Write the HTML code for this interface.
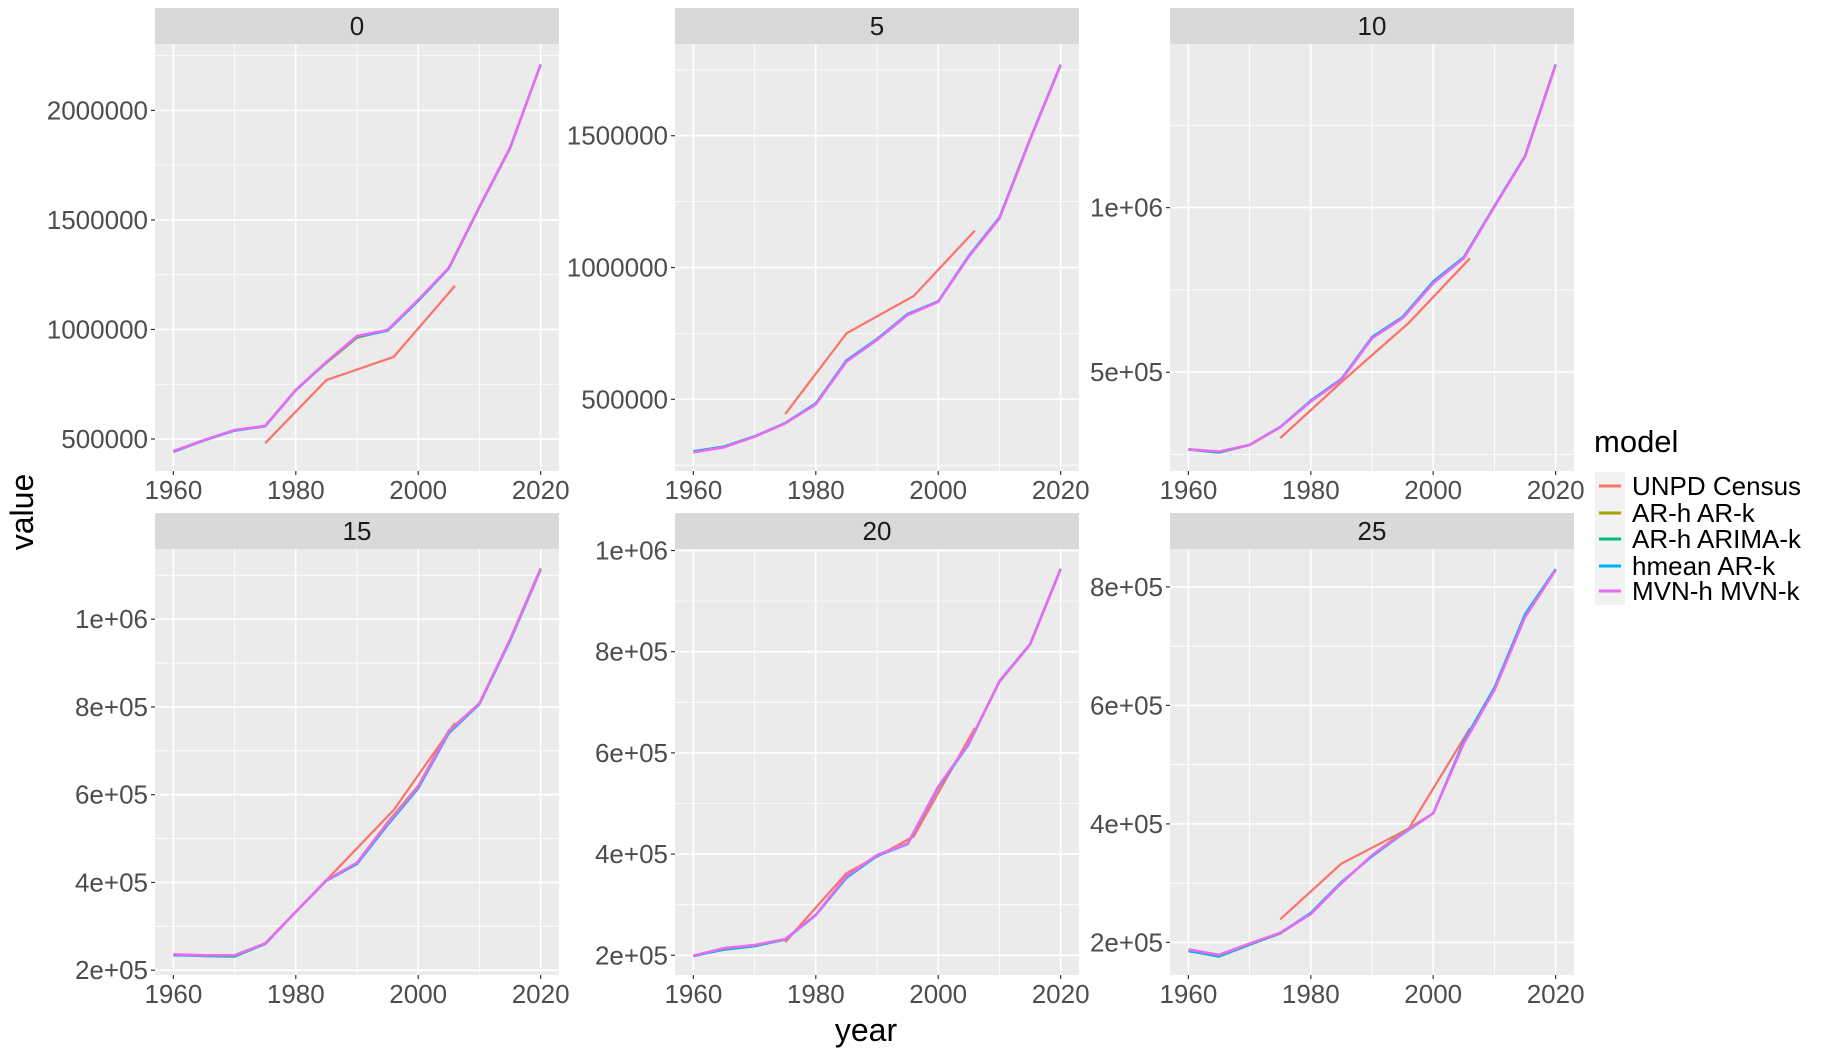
<!DOCTYPE html>
<html><head><meta charset="utf-8">
<style>
html,body{margin:0;padding:0;background:#fff;}
svg{display:block;font-family:"Liberation Sans",Arial,sans-serif;}
</style></head>
<body>
<svg id="chart" width="1827" height="1051" viewBox="0 0 1827 1051" xmlns="http://www.w3.org/2000/svg">
  <rect x="0" y="0" width="1827" height="1051" fill="#ffffff"/>
  <g id="panels"></g>
  <text transform="translate(33,512) rotate(-90)" text-anchor="middle" font-size="32" fill="#000">value</text>
  <text x="866" y="1041" text-anchor="middle" font-size="32" fill="#000">year</text>
  <g>
    <text x="1594" y="452" font-size="31" fill="#000">model</text>
    <rect x="1595" y="472" width="30" height="133" fill="#F2F2F2"/>
    <g id="legend-entries"></g>
  </g>
</svg>
<script>
const years = [1960,1965,1970,1975,1980,1985,1990,1995,2000,2005,2010,2015,2020];
const unpdYears = [1975,1985,1996,2006];
const panelLabels = ["0","5","10","15","20","25"];
const seriesNames = ["UNPD Census","AR-h AR-k","AR-h ARIMA-k","hmean AR-k","MVN-h MVN-k"];
const seriesColors = ["#F8766D","#A3A500","#00BF7D","#00B0F6","#E76BF3"];

// UNPD Census values per panel
const unpd0 = [481000,769000,875000,1199000];
const unpd5 = [444000,750000,892000,1140000];
const unpd10 = [300000,470000,650000,846000];
const unpd15 = [261000,405000,565000,763000];
const unpd20 = [226000,362000,435000,649000];
const unpd25 = [239000,333000,392000,561000];

// MVN-h MVN-k
const mvn0 = [445000,495000,541000,560000,724000,852000,970000,998000,1135000,1281000,1560000,1829000,2208000];
const mvn5 = [299000,318000,358000,409000,481000,643000,725000,820000,870000,1041000,1186000,1484000,1768000];
const mvn10 = [266000,259000,279000,333000,411000,477000,603000,664000,770000,846000,1003000,1155000,1433000];
const mvn15 = [236000,234000,234000,261000,333000,405000,445000,535000,618000,744000,808000,953000,1114000];
const mvn20 = [199000,214000,220000,232000,280000,356000,398000,421000,533000,619000,741000,814000,963000];
const mvn25 = [188000,179000,198000,216000,248000,300000,347000,384000,418000,536000,626000,749000,828000];

// hmean AR-k
const hmean0 = [441000,493000,538000,558000,722000,850000,966000,994000,1130000,1278000,1557000,1826000,2210000];
const hmean5 = [302000,320000,359000,410000,484000,648000,729000,824000,872000,1045000,1190000,1488000,1770000];
const hmean10 = [266000,258000,280000,334000,414000,480000,607000,668000,776000,850000,1005000,1157000,1435000];
const hmean15 = [234000,233000,233000,260000,333000,404000,442000,531000,614000,740000,806000,950000,1112000];
const hmean20 = [198000,212000,219000,231000,279000,353000,396000,420000,531000,617000,742000,815000,964000];
const hmean25 = [185000,177000,197000,216000,250000,302000,345000,383000,418000,540000,630000,754000,830000];

// AR-h ARIMA-k
const arima0 = [443000,494000,539000,559000,723000,851000,968000,996000,1132000,1280000,1558000,1827000,2209000];
const arima5 = [303000,321000,360000,410000,485000,646000,727000,822000,871000,1043000,1188000,1486000,1769000];
const arima10 = [265000,256000,279000,333000,412000,478000,605000,666000,773000,848000,1004000,1156000,1434000];
const arima15 = [235000,232000,231000,260000,333000,404000,443000,533000,616000,742000,807000,951000,1113000];
const arima20 = [199000,211000,218000,231000,280000,354000,397000,420000,532000,618000,741000,814000,963000];
const arima25 = [186000,176000,196000,215000,249000,301000,346000,383000,418000,538000,628000,751000,829000];

// AR-h AR-k
const arh0 = [444000,495000,540000,560000,724000,848000,962000,997000,1134000,1281000,1560000,1829000,2208000];
const arh5 = [300000,319000,358000,409000,482000,644000,726000,821000,870000,1042000,1187000,1485000,1768000];
const arh10 = [266000,258000,279000,333000,411000,478000,604000,665000,771000,847000,1003000,1155000,1433000];
const arh15 = [236000,234000,234000,261000,333000,405000,445000,537000,620000,746000,808000,954000,1116000];
const arh20 = [199000,214000,220000,232000,280000,356000,398000,421000,533000,619000,741000,814000,963000];
const arh25 = [188000,179000,198000,216000,248000,300000,347000,386000,418000,536000,626000,749000,828000];

// y-axis domains and ticks per panel
const yDomains = [[354000,2303000],[228000,1848000],[200000,1497000],[189000,1160000],[161000,1003000],[145000,864000]];
const yTicks0 = [500000,1000000,1500000,2000000];
const yTicks5 = [500000,1000000,1500000];
const yTicks10 = [500000,1000000];
const yTicks15 = [200000,400000,600000,800000,1000000];
const yTicks20 = [200000,400000,600000,800000,1000000];
const yTicks25 = [200000,400000,600000,800000];
const yTickLabels0 = ["500000","1000000","1500000","2000000"];
const yTickLabels5 = ["500000","1000000","1500000"];
const yTickLabels10 = ["5e+05","1e+06"];
const yTickLabels15 = ["2e+05","4e+05","6e+05","8e+05","1e+06"];
const yTickLabels20 = ["2e+05","4e+05","6e+05","8e+05","1e+06"];
const yTickLabels25 = ["2e+05","4e+05","6e+05","8e+05"];
const xTicks = [1960,1980,2000,2020];
const xTickLabels = ["1960","1980","2000","2020"];
const xMinor = [1970,1990,2010];

const NS = "http://www.w3.org/2000/svg";
function mk(tag, attrs, parent){
  const e = document.createElementNS(NS, tag);
  for (const k in attrs) e.setAttribute(k, attrs[k]);
  parent.appendChild(e);
  return e;
}
const colX = [155,675,1170];
const panelW = 404;
const rowStrip = [[8,44,471],[513,549,975]];
const allUnpd = [unpd0,unpd5,unpd10,unpd15,unpd20,unpd25];
const allArh = [arh0,arh5,arh10,arh15,arh20,arh25];
const allArima = [arima0,arima5,arima10,arima15,arima20,arima25];
const allHmean = [hmean0,hmean5,hmean10,hmean15,hmean20,hmean25];
const allMvn = [mvn0,mvn5,mvn10,mvn15,mvn20,mvn25];
const allTicks = [yTicks0,yTicks5,yTicks10,yTicks15,yTicks20,yTicks25];
const allTickLabels = [yTickLabels0,yTickLabels5,yTickLabels10,yTickLabels15,yTickLabels20,yTickLabels25];

const root = document.getElementById("panels");
for (let p = 0; p < 6; p++) {
  const col = p % 3, row = Math.floor(p / 3);
  const x0 = colX[col], x1 = x0 + panelW;
  const [sTop, pTop, pBot] = rowStrip[row];
  const [d0, d1] = yDomains[p];
  const xs = yr => x0 + (yr - 1957) / 66 * panelW;
  const ys = v => pBot - (v - d0) / (d1 - d0) * (pBot - pTop);
  const g = mk("g", {}, root);
  
  
  const strip = mk("rect", {x:x0, y:sTop, width:panelW, height:pTop-sTop, fill:"#D9D9D9"}, g);
  
  
  const st = mk("text", {x:x0+panelW/2, y:sTop+27, "text-anchor":"middle", "font-size":"26", fill:"#1A1A1A"}, g);
  
  
  st.textContent = panelLabels[p];
  mk("rect", {x:x0, y:pTop, width:panelW, height:pBot-pTop, fill:"#EBEBEB"}, g);
  const ticks = allTicks[p];
  const step = ticks[1] - ticks[0];
  for (let v = ticks[0] - step/2; v < d1; v += step) {
    if (v > d0) mk("line", {x1:x0, x2:x1, y1:ys(v), y2:ys(v), stroke:"#fff", "stroke-width":"0.8"}, g);
  }
  xMinor.forEach(yr => mk("line", {x1:xs(yr), x2:xs(yr), y1:pTop, y2:pBot, stroke:"#fff", "stroke-width":"0.8"}, g));
  ticks.forEach((v, i) => {
    mk("line", {x1:x0, x2:x1, y1:ys(v), y2:ys(v), stroke:"#fff", "stroke-width":"1.6"}, g);
    mk("line", {x1:x0-4, x2:x0, y1:ys(v), y2:ys(v), stroke:"#333", "stroke-width":"1.2"}, g);
    const t = mk("text", {x:x0-7, y:ys(v)+9, "text-anchor":"end", "font-size":"26", fill:"#4D4D4D"}, g);
    
    
    t.textContent = allTickLabels[p][i];
  });
  xTicks.forEach((yr, i) => {
    mk("line", {x1:xs(yr), x2:xs(yr), y1:pTop, y2:pBot, stroke:"#fff", "stroke-width":"1.6"}, g);
    mk("line", {x1:xs(yr), x2:xs(yr), y1:pBot, y2:pBot+4, stroke:"#333", "stroke-width":"1.2"}, g);
    const t = mk("text", {x:xs(yr), y:pBot+28, "text-anchor":"middle", "font-size":"26", fill:"#4D4D4D"}, g);
    
    
    t.textContent = xTickLabels[i];
  });
  const series = [[unpdYears, allUnpd[p]],[years, allArh[p]],[years, allArima[p]],[years, allHmean[p]],[years, allMvn[p]]];
  series.forEach((s, si) => {
    const pts = s[0].map((yr, i) => xs(yr).toFixed(1) + "," + ys(s[1][i]).toFixed(1)).join(" ");
    const pl = mk("polyline", {points:pts, fill:"none", stroke:seriesColors[si], "stroke-width": si === 4 ? "2.6" : "2.3", "stroke-linejoin":"round"}, g);
    
    
  });
}
const lg = document.getElementById("legend-entries");
const keyY = [486,513,539,566,591];
seriesNames.forEach((n, i) => {
  const ge = mk("g", {}, lg);
  
  
  mk("line", {x1:1599, x2:1621, y1:keyY[i], y2:keyY[i], stroke:seriesColors[i], "stroke-width":"3"}, ge);
  const t = mk("text", {x:1632, y:keyY[i]+9, "font-size":"26", fill:"#000"}, ge);
  t.textContent = n;
});
</script>
</body></html>
